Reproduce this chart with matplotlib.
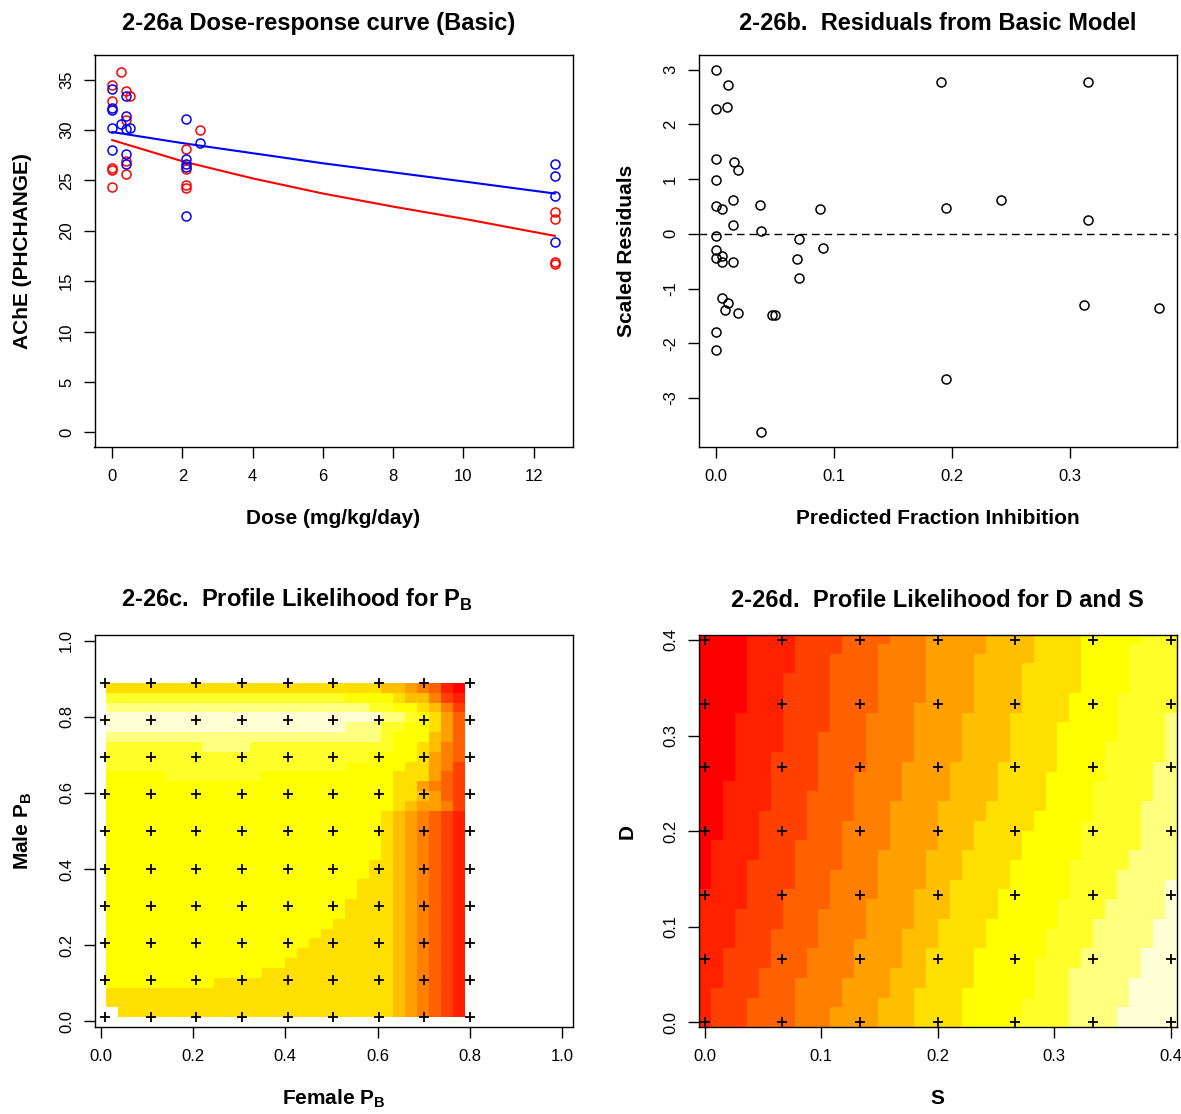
import numpy as np
import matplotlib
matplotlib.use("Agg")
import matplotlib.pyplot as plt
from matplotlib.colors import ListedColormap

plt.rcParams['font.family'] = ['Liberation Sans', 'DejaVu Sans']
plt.rcParams['mathtext.fontset'] = 'custom'
plt.rcParams['mathtext.rm'] = 'Liberation Sans'
plt.rcParams['mathtext.bf'] = 'Liberation Sans:bold'
plt.rcParams['axes.unicode_minus'] = False

# ---------------- Panel a: dose-response data ----------------
red_dose = [0, 0, 0, 0, 0, 0.25, 0.4, 0.4, 0.4, 0.4, 0.5,
            2.1, 2.1, 2.1, 2.1, 2.5, 12.6, 12.6, 12.6, 12.6]
red_ache = [34.45, 32.86, 26.2, 26.05, 24.35, 35.8, 33.85, 31.0, 26.93, 25.6, 33.42,
            28.14, 26.1, 24.5, 24.2, 29.96, 21.9, 21.15, 16.9, 16.75]
blue_dose = [0, 0, 0, 0, 0, 0.25, 0.4, 0.4, 0.4, 0.4, 0.4, 0.5,
             2.1, 2.1, 2.1, 2.1, 2.1, 2.5, 12.6, 12.6, 12.6, 12.6]
blue_ache = [34.07, 32.2, 32.0, 30.2, 28.04, 30.55, 33.35, 31.37, 30.06, 27.65, 26.6, 30.22,
             31.1, 27.1, 26.6, 26.33, 21.52, 28.67, 26.6, 25.45, 23.45, 18.85]
fit_dose = [0, 2, 4, 6, 8, 10, 12.6]
fit_red = [29.0, 26.9, 25.2, 23.7, 22.4, 21.2, 19.5]
fit_blue = [29.8, 28.7, 27.7, 26.7, 25.8, 24.9, 23.7]

# ---------------- Panel b: residuals ----------------
pred_frac = [0.000, 0.0099, 0.000, 0.0093, 0.000, 0.0147, 0.0187, 0.000, 0.000, 0.0045,
             0.0144, 0.0374, 0.0144, 0.0382, 0.000, 0.000, 0.000, 0.0045, 0.0045, 0.0144,
             0.0699, 0.0685, 0.0699, 0.0909, 0.0878, 0.0048, 0.0099, 0.0076, 0.0187, 0.0476,
             0.0498, 0.000, 0.000, 0.0376, 0.191, 0.315, 0.1946, 0.2416, 0.3155, 0.312,
             0.3755, 0.1946]
scaled_resid = [3.00, 2.72, 2.28, 2.32, 1.37, 1.31, 1.16, 0.99, 0.50, 0.457,
                0.61, 0.53, 0.165, 0.043, -0.04, -0.29, -0.445, -0.40, -0.51, -0.51,
                -0.097, -0.46, -0.81, -0.26, 0.45, -1.18, -1.26, -1.40, -1.44, -1.48,
                -1.48, -1.79, -2.12, -3.63, 2.78, 2.78, 0.476, 0.62, 0.26, -1.31,
                -1.36, -2.65]

# ---------------- heat colours (12 levels) ----------------
heat_colors = ['#FF0000', '#FF2000', '#FF4000', '#FF6000', '#FF8000', '#FF9F00',
               '#FFBF00', '#FFDF00', '#FFFF00', '#FFFF2A', '#FFFF80', '#FFFFD5']

# ---------------- Panel c: profile likelihood levels (top row first) ----------------
# characters: 0-9, a=10, b=11, '.' = missing
c_rows_top_down = [
    "7" * 23 + "6654310",
    "9" * 20 + "8888" + "7" + "66" + "421",
    "a" * 22 + "99" + "88" + "7642",
    "b" * 23 + "aa" + "98753",
    "b" * 20 + "aaa" + "99" + "88" + "753",
    "a" * 23 + "9" + "888" + "653",
    "9" * 8 + "a" * 4 + "9" * 12 + "88" + "7643",
    "9" * 22 + "8888" + "7543",
    "9" * 20 + "8" * 5 + "77" + "542",
    "8" * 5 + "9" * 8 + "8" * 11 + "777" + "532",
    "8" * 24 + "77" + "5432",
    "8" * 24 + "77" + "6532",
    "8" * 24 + "765542",
    "8" * 23 + "7654321",
    "8" * 23 + "7654321",
    "8" * 23 + "7654321",
    "8" * 23 + "7654321",
    "8" * 23 + "7654321",
    "8" * 22 + "7" + "7654321",
    "8" * 22 + "7" + "7654321",
    "8" * 21 + "77" + "7654321",
    "8" * 21 + "77" + "7654321",
    "8" * 20 + "777" + "7654321",
    "8" * 20 + "777" + "7654321",
    "8" * 19 + "7" * 4 + "7654321",
    "8" * 18 + "7" * 5 + "7654321",
    "8" * 17 + "7" * 6 + "7654321",
    "8" * 16 + "7" * 7 + "7654321",
    "8" * 15 + "7" * 8 + "7654321",
    "8" * 13 + "7" * 10 + "7654321",
    "8" * 9 + "7" * 14 + "7654321",
    "7" * 23 + "7654321",
    "7" * 23 + "7654321",
    "." + "7" * 22 + "7654321",
]
c_cell_x_range = (0.0121, 0.7879)
c_cell_y_range = (0.0121, 0.8879)
c_cross_x = [0.01, 0.109, 0.2075, 0.306, 0.405, 0.504, 0.6025, 0.701, 0.80]
c_cross_y = [0.01, 0.108, 0.206, 0.303, 0.401, 0.499, 0.597, 0.694, 0.792, 0.89]

# ---------------- Panel d: profile likelihood for D and S ----------------
# For each colour boundary (level 1..11): first column at the top row, and
# the rows at which the boundary moves one column to the left (40 x 40 cells)
d_top_start = [4, 8, 12, 16, 19, 24, 28, 32, 37, 40, 40]
d_steps = [
    [32, 25, 19, 14],
    [36, 28, 22, 17, 12, 8, 4],
    [38, 30, 24, 19, 14, 10, 6, 3],
    [39, 32, 26, 21, 16, 12, 8, 5],
    [33, 27, 23, 18, 13, 9, 5, 2],
    [38, 32, 27, 23, 18, 14, 10, 6, 3],
    [37, 32, 27, 23, 21, 18, 15, 11, 8, 4],
    [34, 31, 26, 22, 20, 17, 14, 11, 8, 4],
    [39, 34, 29, 25, 21, 17, 13, 10, 7, 3, 1],
    [32, 27, 23, 18, 16, 13, 11, 8, 6],
    [15, 11, 8, 5, 2],
]
d_n = 40
d_cell_range = (-0.00513, 0.40513)
d_cross = [0.0, 0.0667, 0.1333, 0.2, 0.2667, 0.3333, 0.4]

# ================= build figure =================
W, H = 1181, 1114
fig = plt.figure(figsize=(W / 100, H / 100), dpi=100)


def add_ax(l, t, r, b):
    return fig.add_axes([l / W, 1 - b / H, (r - l) / W, (b - t) / H])


TICK_FS = 12
LAB_FS = 15
TITLE_FS = 17

cmap = ListedColormap(heat_colors)
cmap.set_bad('white')


def style(ax):
    for s in ax.spines.values():
        s.set_linewidth(1.0)
    ax.tick_params(axis='both', length=7.8, width=1.0, labelsize=TICK_FS)
    ax.tick_params(axis='x', pad=8)
    ax.tick_params(axis='y', pad=7, labelrotation=90)
    for lab in ax.get_yticklabels():
        lab.set_va('center')


def xlabel(ax, txt, off=71):
    h = ax.get_position().height * H
    ax.text(0.5, -off / h, txt, transform=ax.transAxes, ha='center', va='center',
            fontsize=LAB_FS, fontweight='bold')


def ylabel(ax, txt, off=72):
    w = ax.get_position().width * W
    ax.text(-off / w, 0.5, txt, transform=ax.transAxes, ha='center', va='center',
            rotation=90, fontsize=LAB_FS, fontweight='bold')


# ---- Panel a ----
axA = add_ax(94.5, 55, 572.5, 447)
axA.plot(fit_dose, fit_blue, color='#0000FF', lw=1.5)
axA.plot(fit_dose, fit_red, color='#FF0000', lw=1.5)
axA.plot(red_dose, red_ache, 'o', mfc='none', mec='#FF0000', ms=6.5, mew=1.1)
axA.plot(blue_dose, blue_ache, 'o', mfc='none', mec='#0000FF', ms=6.5, mew=1.1)
axA.set_xlim(-0.504, 13.104)
axA.set_ylim(-1.44, 37.44)
axA.set_xticks([0, 2, 4, 6, 8, 10, 12])
axA.set_yticks([0, 5, 10, 15, 20, 25, 30, 35])
style(axA)
axA.set_title("2-26a Dose-response curve (Basic)", fontsize=TITLE_FS, fontweight='bold',
              pad=18, x=0.469)
xlabel(axA, "Dose (mg/kg/day)")
ylabel(axA, "AChE (PHCHANGE)")

# ---- Panel b ----
axB = add_ax(698.7, 55, 1176.5, 447)
axB.axhline(0, color='black', lw=1.0, linestyle=(0, (5.5, 3.5)))
axB.plot(pred_frac, scaled_resid, 'o', mfc='none', mec='black', ms=6.5, mew=1.1)
axB.set_xlim(-0.015, 0.3905)
axB.set_ylim(-3.895, 3.265)
axB.set_xticks([0.0, 0.1, 0.2, 0.3])
axB.set_xticklabels(["0.0", "0.1", "0.2", "0.3"])
axB.set_yticks([-3, -2, -1, 0, 1, 2, 3])
style(axB)
axB.set_title("2-26b.  Residuals from Basic Model", fontsize=TITLE_FS, fontweight='bold',
              pad=18)
xlabel(axB, "Predicted Fraction Inhibition")
ylabel(axB, "Scaled Residuals")

# ---- Panel c ----
axC = add_ax(94.5, 635, 572.5, 1027.3)
cmat = np.array([[np.nan if ch == '.' else int(ch, 16) for ch in row]
                 for row in c_rows_top_down[::-1]], dtype=float)
cmat = np.ma.masked_invalid(cmat)
axC.imshow(cmat, cmap=cmap, vmin=-0.5, vmax=11.5, origin='lower', aspect='auto',
           interpolation='nearest',
           extent=(c_cell_x_range[0], c_cell_x_range[1], c_cell_y_range[0], c_cell_y_range[1]))
gx, gy = np.meshgrid(c_cross_x, c_cross_y)
axC.plot(gx.ravel(), gy.ravel(), '+', color='black', ms=6.5, mew=1.3)
axC.set_xlim(-0.013, 1.022)
axC.set_ylim(-0.016, 1.015)
axC.set_xticks([0, 0.2, 0.4, 0.6, 0.8, 1.0])
axC.set_xticklabels(["0.0", "0.2", "0.4", "0.6", "0.8", "1.0"])
axC.set_yticks([0, 0.2, 0.4, 0.6, 0.8, 1.0])
axC.set_yticklabels(["0.0", "0.2", "0.4", "0.6", "0.8", "1.0"])
style(axC)
axC.set_title(r"2-26c.  Profile Likelihood for P$_\mathbf{B}$", fontsize=TITLE_FS,
              fontweight='bold', pad=20, x=0.424)
xlabel(axC, r"Female P$_\mathbf{B}$")
ylabel(axC, r"Male P$_\mathbf{B}$")

# ---- Panel d ----
axD = add_ax(698.7, 635, 1176.5, 1027.3)
dmat = np.zeros((d_n, d_n), dtype=int)
for r in range(d_n):
    for b in range(len(d_top_start)):
        start = d_top_start[b] - sum(1 for s in d_steps[b] if r < s)
        dmat[r, start:] = b + 1
axD.imshow(dmat, cmap=cmap, vmin=-0.5, vmax=11.5, origin='lower', aspect='auto',
           interpolation='nearest',
           extent=(d_cell_range[0], d_cell_range[1], d_cell_range[0], d_cell_range[1]))
gx, gy = np.meshgrid(d_cross, d_cross)
axD.plot(gx.ravel(), gy.ravel(), '+', color='black', ms=6.5, mew=1.3)
axD.set_xlim(*d_cell_range)
axD.set_ylim(*d_cell_range)
axD.set_xticks([0, 0.1, 0.2, 0.3, 0.4])
axD.set_xticklabels(["0.0", "0.1", "0.2", "0.3", "0.4"])
axD.set_yticks([0, 0.1, 0.2, 0.3, 0.4])
axD.set_yticklabels(["0.0", "0.1", "0.2", "0.3", "0.4"])
style(axD)
axD.set_title("2-26d.  Profile Likelihood for D and S", fontsize=TITLE_FS,
              fontweight='bold', pad=20)
xlabel(axD, "S")
ylabel(axD, "D")

fig.savefig("out.png", dpi=100)
